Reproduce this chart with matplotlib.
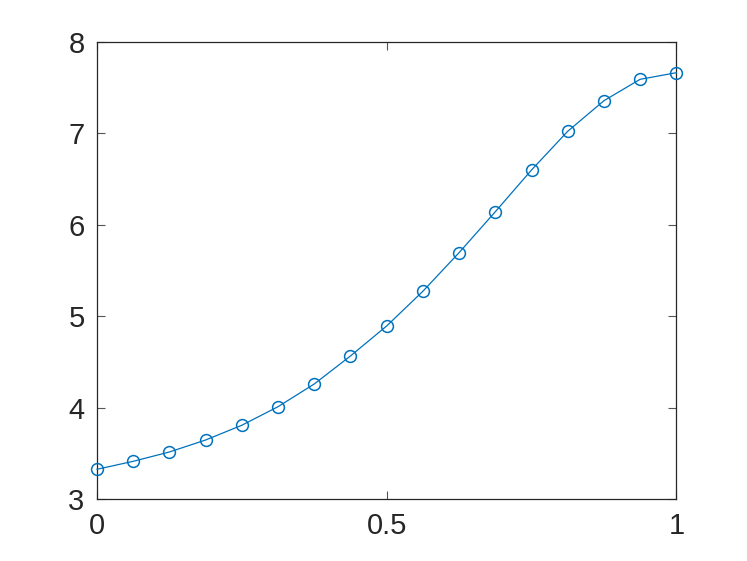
import matplotlib
matplotlib.use("Agg")
import matplotlib.pyplot as plt

x_values = [i / 16 for i in range(17)]
y_values = [3.328, 3.415, 3.517, 3.648, 3.809, 4.012, 4.26, 4.566, 4.894,
            5.273, 5.695, 6.142, 6.598, 7.021, 7.355, 7.589, 7.661]
x_ticks = [0, 0.5, 1]
x_tick_labels = ["0", "0.5", "1"]
y_ticks = [3, 4, 5, 6, 7, 8]
y_tick_labels = ["3", "4", "5", "6", "7", "8"]

plt.rcParams['font.family'] = ['Liberation Sans', 'DejaVu Sans']

fig = plt.figure(figsize=(7.47, 5.61), dpi=100)
ax = fig.add_axes([0.1299, 0.110, 0.7755, 0.8157])

ax.plot(x_values, y_values, color='#0072BD', linewidth=0.9, marker='o',
        markersize=8.5, markerfacecolor='none', markeredgewidth=1.1,
        markeredgecolor='#0072BD', clip_on=False, zorder=3)

ax.set_xlim(0, 1)
ax.set_ylim(3, 8)
ax.set_xticks(x_ticks)
ax.set_xticklabels(x_tick_labels)
ax.set_yticks(y_ticks)
ax.set_yticklabels(y_tick_labels)

axc = '#262626'
for s in ax.spines.values():
    s.set_color(axc)
    s.set_linewidth(0.9)
ax.tick_params(direction='in', length=6, width=0.8, color='#555555',
               labelsize=21, labelcolor=axc, top=True, right=True, pad=9)

fig.savefig('out.png', dpi=100)
